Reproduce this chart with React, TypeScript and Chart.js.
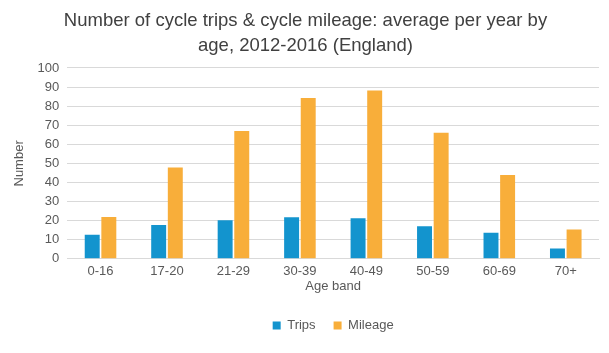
import React, { useEffect, useRef } from "react";
import { Chart, registerables } from "chart.js";

Chart.register(...registerables);

const categories = ["0-16", "17-20", "21-29", "30-39", "40-49", "50-59", "60-69", "70+"];
const trips = [12.6, 17.7, 20.2, 21.8, 21.2, 17.0, 13.7, 5.4];
const mileage = [21.9, 47.9, 67.0, 84.2, 88.2, 66.1, 43.9, 15.3];
const titleLines = ["Number of cycle trips & cycle mileage: average per year by", "age, 2012-2016 (England)"];

const FONT = "'Liberation Sans', Arial, sans-serif";

export default function App() {
  const ref = useRef<HTMLCanvasElement>(null);
  useEffect(() => {
    document.body.style.margin = "0";
    const ctx = ref.current!;
    const chart = new Chart(ctx, {
      type: "bar",
      data: {
        labels: categories,
        datasets: [
          { label: "Trips", data: trips, backgroundColor: "#1394CE", categoryPercentage: 0.5, barPercentage: 0.9 },
          { label: "Mileage", data: mileage, backgroundColor: "#F8AE3A", categoryPercentage: 0.5, barPercentage: 0.9 },
        ],
      },
      options: {
        animation: false,
        responsive: false,
        maintainAspectRatio: false,
        layout: { padding: { left: 12, right: 10, top: 0, bottom: 11 } },
        plugins: {
          title: {
            display: true,
            text: titleLines,
            color: "#404040",
            font: { family: FONT, size: 18.5, weight: "normal", lineHeight: 1.35 },
            padding: { top: 8, bottom: 10 },
          },
          legend: {
            position: "bottom",
            fullSize: false,
            labels: {
              boxWidth: 8,
              boxHeight: 8,
              color: "#595959",
              font: { family: FONT, size: 13 },
              padding: 18,
            },
          },
          tooltip: { enabled: false },
        },
        scales: {
          x: {
            grid: { display: false, drawTicks: false },
            border: { color: "#d9d9d9" },
            ticks: { color: "#595959", font: { family: FONT, size: 13 }, padding: 5 },
            title: {
              display: true,
              text: "Age band",
              color: "#595959",
              font: { family: FONT, size: 13 },
              padding: { top: -6, bottom: 7 },
            },
          },
          y: {
            min: 0,
            max: 100,
            grid: { color: "#d9d9d9", drawTicks: false },
            border: { display: false },
            ticks: { stepSize: 10, color: "#595959", font: { family: FONT, size: 13 }, padding: 8 },
            title: {
              display: true,
              text: "Number",
              color: "#595959",
              font: { family: FONT, size: 13 },
              padding: { top: 0, bottom: 2 },
            },
          },
        },
      },
    });
    return () => chart.destroy();
  }, []);
  return <canvas ref={ref} width={609} height={353} style={{ display: "block" }} />;
}
